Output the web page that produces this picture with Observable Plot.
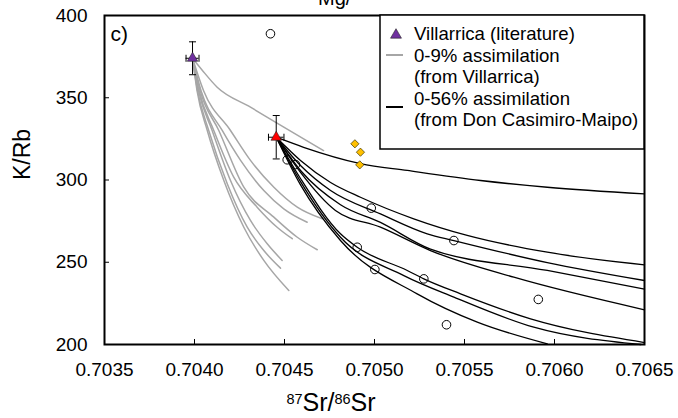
<!DOCTYPE html>
<html>
<head>
<meta charset="utf-8">
<script src="https://cdn.jsdelivr.net/npm/d3@7"></script>
<script src="https://cdn.jsdelivr.net/npm/@observablehq/plot@0.6"></script>
<style>
  html, body { margin: 0; padding: 0; background: #fff; }
  #chart svg { display: block; }
</style>
</head>
<body>
<div id="chart"></div>
<script>
// ---------- data ----------
const xTicks = [0.7035, 0.7040, 0.7045, 0.7050, 0.7055, 0.7060, 0.7065];
const yTicks = [200, 250, 300, 350, 400];

const titleText = "Mg/";
const panelLabel = "c)";
const yTitle = "K/Rb";

const legendLabels = [
  "Villarrica (literature)",
  "0-9% assimilation",
  "(from Villarrica)",
  "0-56% assimilation",
  "(from Don Casimiro-Maipo)"
];

// Villarrica (literature) – purple triangle with error bars
const villarrica = [{ x: 0.703989, y: 374, xErr: 0.000036, yErr: 10 }];
// Don Casimiro-Maipo – red triangle with error bars
const donCasimiro = [{ x: 0.704454, y: 326, xErr: 0.000043, yErr: 13.2 }];

// open circles
const samplesX = [0.704422, 0.704515, 0.704561, 0.704982, 0.704904, 0.705002, 0.705441, 0.705274, 0.705910, 0.705400];
const samplesY = [388.9, 312.3, 309.4, 282.9, 259.1, 245.6, 263.2, 239.9, 227.4, 212.0];

// yellow diamonds
const diamondsX = [0.704891, 0.704922, 0.704918];
const diamondsY = [322.0, 316.9, 309.2];

// 0-9% assimilation curves (from Villarrica), grey
const grayCurves = [
  [[0.703989,374],[0.704044,366.6],[0.704126,356.4],[0.704311,344.3],[0.704496,332.1],[0.704717,317.9]],
  [[0.703989,374],[0.704050,354.4],[0.704200,330.1],[0.704311,311.9],[0.704441,295.6],[0.704571,283.5],[0.704710,276.4]],
  [[0.703989,374],[0.704036,354.4],[0.704154,330.1],[0.704256,311.9],[0.704385,293.6],[0.704496,282.5],[0.704626,274.3]],
  [[0.703989,374],[0.704031,354.4],[0.704135,330.1],[0.704274,295.6],[0.704441,277.4],[0.704571,265.2],[0.704682,257.6]],
  [[0.703989,374],[0.704025,354.4],[0.704107,330.1],[0.704218,301.7],[0.704348,283.5],[0.704459,271.3],[0.704543,264.3]],
  [[0.703989,374],[0.704022,354.4],[0.704098,330.1],[0.704200,299.7],[0.704311,275.4],[0.704404,261.2],[0.704487,251.1]],
  [[0.703989,374],[0.704017,354.4],[0.704079,330.1],[0.704182,297.7],[0.704293,271.3],[0.704385,257.1],[0.704478,246.4]],
  [[0.703989,374],[0.704014,354.4],[0.704071,330.1],[0.704163,299.7],[0.704274,271.3],[0.704385,251.1],[0.704524,232.8]]
];

// 0-56% assimilation curves (from Don Casimiro-Maipo), black
const blackCurves = [
  [[0.704454,326],[0.704606,319.9],[0.704922,310.0],[0.705182,305.8],[0.705589,299.7],[0.705960,295.6],[0.706500,291.6]],
  [[0.704454,326],[0.704589,311.9],[0.704756,298.5],[0.704922,289.5],[0.705218,276.4],[0.705515,266.3],[0.705960,256.1],[0.706500,248.4]],
  [[0.704454,326],[0.704589,308.8],[0.704756,293.6],[0.705033,279.4],[0.705293,267.3],[0.705441,263.2],[0.705960,249.8],[0.706500,238.9]],
  [[0.704454,326],[0.704589,305.8],[0.704811,285.0],[0.705033,274.2],[0.705311,258.0],[0.705960,245.0],[0.706500,233.6]],
  [[0.704454,326],[0.704589,304.6],[0.704783,281.5],[0.705033,271.3],[0.705311,257.1],[0.705774,240.9],[0.706500,221.1]],
  [[0.704454,326],[0.704589,300.9],[0.704811,267.3],[0.704904,259.1],[0.705182,245.0],[0.705274,239.9],[0.705478,230.8],[0.705867,215.6],[0.706500,201.2]],
  [[0.704454,326],[0.704589,299.0],[0.704811,265.2],[0.705163,241.9],[0.705441,228.8],[0.705885,210.5],[0.706480,200.0]],
  [[0.704454,326],[0.704589,297.0],[0.704811,263.2],[0.705237,230.8],[0.705571,213.6],[0.705960,200.4]]
];

// ---------- build tables ----------
const toRows = (curves) => curves.flatMap((c, i) => c.map(([x, y]) => ({ id: i, x, y })));
const grayRows = toRows(grayCurves);
const blackRows = toRows(blackCurves);
const samples = samplesX.map((x, i) => ({ x, y: samplesY[i] }));
const diamonds = diamondsX.map((x, i) => ({ x, y: diamondsY[i] }));
const triangles = [...villarrica, ...donCasimiro];

// ---------- styles ----------
const FONT = "'Liberation Sans', Arial, Helvetica, sans-serif";
const PURPLE = "#7030A0";
const RED = "#FF0000";
const GREY = "#A6A6A6";
const GOLD = "#FFC000";

// custom error-bar cap symbols (pixel sized)
const hCap = { draw(ctx) { ctx.moveTo(-3.5, 0); ctx.lineTo(3.5, 0); } };
const vCap = { draw(ctx) { ctx.moveTo(0, -3.5); ctx.lineTo(0, 3.5); } };

const W = 678, H = 418;
const mL = 104, mR = 34, mT = 15, mB = 74;
const innerW = W - mL - mR, innerH = H - mT - mB;

const chart = Plot.plot({
  width: W,
  height: H,
  marginLeft: mL,
  marginRight: mR,
  marginTop: mT,
  marginBottom: mB,
  x: { domain: [0.7035, 0.7065] },
  y: { domain: [200, 400] },
  style: { fontFamily: FONT, fontSize: "19px", background: "#fff", color: "#000", overflow: "visible" },
  marks: [
    Plot.line(grayRows, { x: "x", y: "y", z: "id", stroke: GREY, strokeWidth: 1.5, curve: "monotone-x" }),
    Plot.line(blackRows, { x: "x", y: "y", z: "id", stroke: "#000", strokeWidth: 1.3, curve: "monotone-x" }),
    Plot.dot(samples, { x: "x", y: "y", r: 4.3, fill: "none", stroke: "#000", strokeWidth: 1 }),
    Plot.dot(diamonds, { x: "x", y: "y", symbol: "diamond2", r: 3.7, fill: GOLD, stroke: "#3a3000", strokeWidth: 0.7 }),
    // error bars
    Plot.ruleX(triangles, { x: "x", y1: d => d.y - d.yErr, y2: d => d.y + d.yErr, stroke: "#000", strokeWidth: 1 }),
    Plot.ruleY(triangles, { y: "y", x1: d => d.x - d.xErr, x2: d => d.x + d.xErr, stroke: "#000", strokeWidth: 1 }),
    Plot.dot(triangles, { x: "x", y: d => d.y - d.yErr, symbol: hCap, r: 3, fill: "none", stroke: "#000", strokeWidth: 1 }),
    Plot.dot(triangles, { x: "x", y: d => d.y + d.yErr, symbol: hCap, r: 3, fill: "none", stroke: "#000", strokeWidth: 1 }),
    Plot.dot(triangles, { x: d => d.x - d.xErr, y: "y", symbol: vCap, r: 3, fill: "none", stroke: "#000", strokeWidth: 1 }),
    Plot.dot(triangles, { x: d => d.x + d.xErr, y: "y", symbol: vCap, r: 3, fill: "none", stroke: "#000", strokeWidth: 1 }),
    Plot.dot(villarrica, { x: "x", y: "y", symbol: "triangle", r: 3.9, fill: PURPLE, stroke: "#222", strokeWidth: 0.6 }),
    Plot.dot(donCasimiro, { x: "x", y: "y", symbol: "triangle", r: 3.9, fill: RED, stroke: "#222", strokeWidth: 0.6 }),
    // inward ticks
    Plot.tickX(xTicks, { x: d => d, insetTop: innerH - 5, stroke: "#000", strokeWidth: 1 }),
    Plot.tickY(yTicks, { y: d => d, insetRight: innerW - 5, stroke: "#000", strokeWidth: 1 }),
    // tick labels
    Plot.axisX(xTicks, { tickSize: 0, tickPadding: 18, tickFormat: d3.format(".4f"), fontSize: 19, label: null }),
    Plot.axisY(yTicks, { tickSize: 0, tickPadding: 17, tickFormat: d3.format("d"), fontSize: 19, label: null }),
    // y axis title & panel label
    Plot.text([yTitle], { frameAnchor: "left", dx: -(mL - 29), rotate: -90, text: d => d, fontSize: 23, lineAnchor: "bottom" }),
    Plot.text([panelLabel], { frameAnchor: "top-left", dx: 6, dy: 25, text: d => d, fontSize: 21, textAnchor: "start", lineAnchor: "bottom" }),
    Plot.frame({ stroke: "#000", strokeWidth: 2 })
  ]
});

document.getElementById("chart").append(chart);

// ---------- annotations drawn in pixel space ----------
const svg = d3.select(chart);

// title (cut off at the top edge, as in the reference)
svg.append("text")
  .attr("x", 318).attr("y", 5)
  .attr("text-anchor", "start")
  .attr("font-family", FONT).attr("font-size", 20)
  .text(titleText);

// x-axis title with superscripts: 87Sr/86Sr
const xt = svg.append("text")
  .attr("x", 331).attr("y", 411)
  .attr("text-anchor", "middle")
  .attr("font-family", FONT).attr("font-size", 25);
xt.append("tspan").attr("font-size", 14.5).attr("dy", -7).text("87");
xt.append("tspan").attr("dy", 7).text("Sr/");
xt.append("tspan").attr("font-size", 14.5).attr("dy", -7).text("86");
xt.append("tspan").attr("dy", 7).text("Sr");

// legend
const lg = svg.append("g")
  .attr("font-family", FONT).attr("font-size", 18.6)
  .attr("text-anchor", "start");
lg.append("rect")
  .attr("x", 380).attr("y", 15).attr("width", 264).attr("height", 134)
  .attr("fill", "#fff").attr("stroke", "#000").attr("stroke-width", 1.5);
lg.append("path")
  .attr("d", d3.symbol(d3.symbolTriangle, 52)())
  .attr("transform", "translate(396,35)")
  .attr("fill", PURPLE).attr("stroke", "#222").attr("stroke-width", 0.6);
lg.append("line").attr("x1", 386).attr("x2", 403).attr("y1", 55).attr("y2", 55)
  .attr("stroke", GREY).attr("stroke-width", 2);
lg.append("line").attr("x1", 386).attr("x2", 403).attr("y1", 107).attr("y2", 107)
  .attr("stroke", "#000").attr("stroke-width", 2);
const baselines = [40, 61.5, 83, 104.5, 126];
legendLabels.forEach((t, i) => {
  lg.append("text").attr("x", 414).attr("y", baselines[i]).attr("text-anchor", "start").text(t);
});
</script>
</body>
</html>
